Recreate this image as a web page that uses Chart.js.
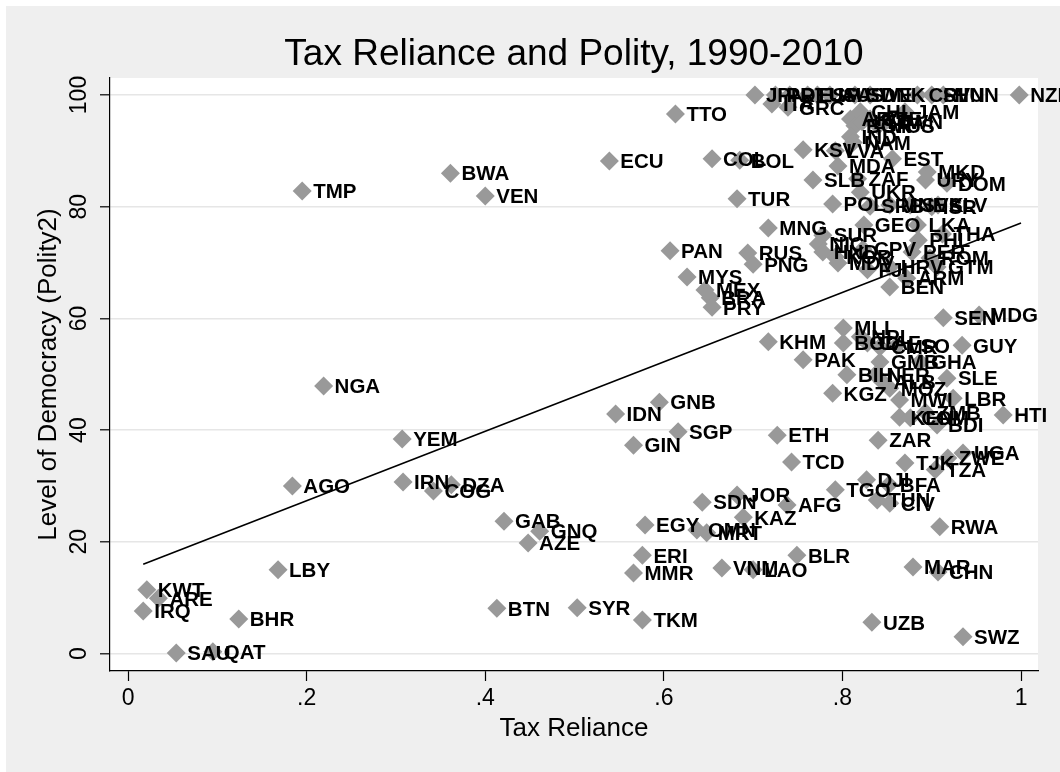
<!DOCTYPE html>
<html><head><meta charset="utf-8">
<script src="https://cdn.jsdelivr.net/npm/chart.js@4.4.1/dist/chart.umd.min.js"></script>
<style>html,body{margin:0;padding:0;background:#fff;}canvas{display:block;}</style>
</head><body>
<canvas id="c" width="1060" height="772"></canvas>
<script>
const codes = ["JPN","PRT","DEU","ESP","USA","AUS","SWE","DNK","CRI","SVN","HUN","NZL",
"ITA","GRC","CHL","JAM","ARG","BGR","LTU","CZE","MUS","TWN","IND","NAM","TTO","KSV","LVA",
"COL","BOL","ECU","MDA","EST","MKD","BWA","URY","DOM","SLB","ZAF","UKR","TMP","VEN","TUR",
"POL","SRB","MNE","SVK","ISR","SLV","MNG","SUR","GEO","LKA","THA","PHL","NIC","CPV","KOR",
"HND","MDV","PER","ROM","FJI","HRV","GTM","ARM","BEN","PAN","RUS","PNG","MYS","MEX","BRA",
"PRY","SEN","MDG","MLI","BGD","NPL","CAF","CMR","LSO","KHM","GUY","PAK","GMB","GHA","BIH",
"NER","SLE","ALB","MOZ","KGZ","MWI","LBR","KEN","COM","ZMB","BDI","HTI","NGA","IDN","GNB",
"YEM","SGP","GIN","ETH","ZAR","TCD","TJK","TZA","ZWE","UGA","DJI","BFA","TGO","TUN","CIV",
"SDN","JOR","AFG","KAZ","EGY","OMN","MRT","RWA","IRN","DZA","COG","AGO","GAB","GNQ","AZE",
"ERI","MMR","VNM","LAO","BLR","MAR","CHN","LBY","KWT","ARE","IRQ","BHR","SAU","QAT","BTN",
"SYR","TKM","UZB","SWZ"];
const taxReliance = [0.702,0.725,0.741,0.761,0.772,0.786,0.814,0.831,0.884,0.900,0.913,0.998,
0.721,0.739,0.820,0.870,0.809,0.814,0.822,0.831,0.840,0.848,0.809,0.812,0.613,0.756,0.792,
0.654,0.685,0.539,0.795,0.856,0.895,0.361,0.893,0.917,0.767,0.817,0.820,0.195,0.400,0.682,
0.789,0.831,0.853,0.876,0.900,0.907,0.717,0.778,0.824,0.884,0.912,0.885,0.773,0.823,0.792,
0.778,0.795,0.878,0.898,0.828,0.853,0.906,0.872,0.853,0.607,0.694,0.700,0.626,0.646,0.652,
0.654,0.913,0.953,0.801,0.801,0.820,0.828,0.842,0.861,0.717,0.934,0.756,0.842,0.887,0.805,
0.837,0.917,0.845,0.853,0.789,0.864,0.924,0.864,0.876,0.893,0.906,0.980,0.219,0.546,0.595,
0.307,0.616,0.566,0.727,0.840,0.743,0.870,0.904,0.918,0.935,0.827,0.852,0.792,0.839,0.853,
0.643,0.682,0.738,0.689,0.579,0.637,0.648,0.909,0.308,0.362,0.342,0.184,0.421,0.461,0.448,
0.576,0.566,0.665,0.700,0.749,0.879,0.907,0.168,0.021,0.034,0.017,0.124,0.054,0.095,0.413,
0.503,0.576,0.833,0.935];
const polity2 = [100,100,100,100,100,100,100,100,100,100,100,100,
98.4,97.8,97.0,97.0,95.7,94.5,95.2,95.7,94.5,95.2,92.5,91.5,96.6,90.2,90.0,
88.6,88.3,88.2,87.3,88.6,86.2,86.0,84.8,84.2,84.8,85.0,82.6,82.8,81.9,81.4,
80.5,80.1,80.3,80.3,80.0,80.3,76.2,74.9,76.7,76.7,75.1,74.0,73.3,72.4,71.0,
71.9,69.9,71.9,70.8,68.7,69.2,69.2,67.2,65.6,72.1,71.7,69.7,67.4,65.1,63.7,
62.0,60.1,60.6,58.3,55.6,56.7,55.6,54.9,55.2,55.8,55.2,52.6,52.2,52.2,49.9,
49.9,49.3,48.6,47.5,46.6,45.4,45.7,42.3,42.2,43.2,40.9,42.7,47.9,42.9,45.0,
38.4,39.7,37.3,39.1,38.2,34.3,34.1,32.9,35.0,35.9,31.1,30.2,29.3,27.5,26.9,
27.1,28.4,26.6,24.4,23.0,22.1,21.6,22.7,30.7,30.2,29.1,30.0,23.7,21.9,19.8,
17.6,14.4,15.3,15.0,17.6,15.5,14.6,15.0,11.4,9.9,7.6,6.2,0.1,0.3,8.1,
8.2,6.0,5.6,3.0];
const fitX = [0.017, 1.0];
const fitY = [16.0, 77.1];
const xTicks = [0, 0.2, 0.4, 0.6, 0.8, 1];
const xTickLabels = ["0", ".2", ".4", ".6", ".8", "1"];
const yTicks = [0, 20, 40, 60, 80, 100];

const FONT = '"Liberation Sans", Arial, Helvetica, sans-serif';

const bgPlugin = {
  id: 'bg',
  beforeDraw(chart) {
    const ctx = chart.ctx, a = chart.chartArea;
    ctx.save();
    ctx.fillStyle = '#ffffff';
    ctx.fillRect(0, 0, chart.width, chart.height);
    ctx.fillStyle = '#efefef';
    ctx.fillRect(6, 6, chart.width - 6, chart.height - 6);
    ctx.fillStyle = '#ffffff';
    ctx.fillRect(a.left, a.top, a.right - a.left, a.bottom - a.top);
    ctx.restore();
  }
};

const labelPlugin = {
  id: 'pointLabels',
  afterDatasetsDraw(chart) {
    const meta = chart.getDatasetMeta(1);
    const ctx = chart.ctx;
    ctx.save();
    ctx.font = 'bold 20.5px ' + FONT;
    ctx.fillStyle = '#000';
    ctx.textAlign = 'left';
    ctx.textBaseline = 'alphabetic';
    meta.data.forEach((pt, i) => {
      ctx.fillText(codes[i], pt.x + 11, pt.y + 7.3);
    });
    ctx.restore();
  }
};

new Chart(document.getElementById('c'), {
  data: {
    datasets: [
      {
        type: 'line',
        data: fitX.map((x, i) => ({x: x, y: fitY[i]})),
        borderColor: '#000',
        borderWidth: 1.6,
        pointRadius: 0,
        fill: false,
        tension: 0
      },
      {
        type: 'scatter',
        data: codes.map((c, i) => ({x: taxReliance[i], y: polity2[i]})),
        pointStyle: 'rectRot',
        pointRadius: 9.5,
        backgroundColor: '#999999',
        borderWidth: 0
      }
    ]
  },
  options: {
    responsive: false,
    animation: false,
    devicePixelRatio: 1,
    events: [],
    layout: {padding: {left: 6, right: 22, top: 0, bottom: 0}},
    plugins: {
      legend: {display: false},
      tooltip: {enabled: false},
      title: {
        display: true,
        fullSize: false,
        text: 'Tax Reliance and Polity, 1990-2010',
        color: '#000',
        font: {family: FONT, size: 37, weight: 'normal', lineHeight: 1.2},
        padding: {top: 33, bottom: 0.6}
      }
    },
    scales: {
      x: {
        type: 'linear',
        min: -0.0202,
        max: 1.019,
        afterBuildTicks(scale) { scale.ticks = xTicks.map(v => ({value: v})); },
        afterFit(scale) { scale.height = 101; },
        ticks: {
          autoSkip: false,
          maxRotation: 0,
          padding: 4,
          color: '#000',
          font: {family: FONT, size: 23},
          callback(v) { const k = xTicks.indexOf(v); return k >= 0 ? xTickLabels[k] : ''; }
        },
        grid: {drawOnChartArea: false, drawTicks: true, tickLength: 10, tickColor: '#000', tickWidth: 1.2},
        border: {display: true, color: '#000', width: 1.2},
        title: {
          display: true,
          text: 'Tax Reliance',
          color: '#000',
          font: {family: FONT, size: 26, lineHeight: 1.2},
          padding: {top: 0, bottom: 28}
        }
      },
      y: {
        type: 'linear',
        min: -3.13,
        max: 103.04,
        afterBuildTicks(scale) { scale.ticks = yTicks.map(v => ({value: v})); },
        afterFit(scale) { scale.width = 104; },
        ticks: {
          autoSkip: false,
          minRotation: 90,
          maxRotation: 90,
          crossAlign: 'center',
          padding: 1,
          color: '#000',
          font: {family: FONT, size: 23},
          callback(v) { return String(v); }
        },
        grid: {drawOnChartArea: true, color: '#e6e6e6', lineWidth: 1.6, drawTicks: true, tickLength: 10, tickColor: '#000', tickWidth: 1.2},
        border: {display: true, color: '#000', width: 1.2},
        title: {
          display: true,
          text: 'Level of Democracy (Polity2)',
          color: '#000',
          font: {family: FONT, size: 26, lineHeight: 1.2},
          padding: {top: 27, bottom: 0}
        }
      }
    }
  },
  plugins: [bgPlugin, labelPlugin]
});
</script>
</body></html>
